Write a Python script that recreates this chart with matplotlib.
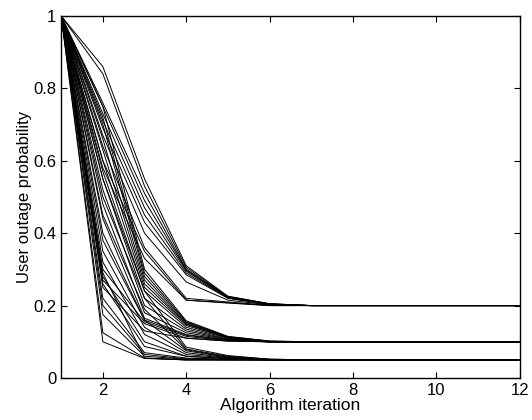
import matplotlib
matplotlib.use("Agg")
import matplotlib.pyplot as plt

iterations = list(range(1, 13))

# outage probability at iterations 1..6, then the level it settles at
group_high = [
    [1, 0.86, 0.55, 0.31, 0.226, 0.205],
    [1, 0.84, 0.53, 0.305, 0.225, 0.205],
    [1, 0.76, 0.51, 0.30, 0.224, 0.205],
    [1, 0.75, 0.49, 0.298, 0.223, 0.204],
    [1, 0.73, 0.47, 0.295, 0.222, 0.204],
    [1, 0.71, 0.45, 0.29, 0.221, 0.203],
    [1, 0.69, 0.43, 0.285, 0.22, 0.203],
    [1, 0.67, 0.40, 0.265, 0.215, 0.202],
    [1, 0.64, 0.36, 0.22, 0.21, 0.201],
    [1, 0.60, 0.35, 0.215, 0.208, 0.2],
    [1, 0.58, 0.33, 0.215, 0.207, 0.2],
]
final_high = 0.2

group_mid = [
    [1, 0.75, 0.30, 0.158, 0.115, 0.102],
    [1, 0.72, 0.29, 0.155, 0.114, 0.102],
    [1, 0.70, 0.28, 0.153, 0.113, 0.101],
    [1, 0.66, 0.27, 0.15, 0.112, 0.101],
    [1, 0.63, 0.26, 0.148, 0.112, 0.101],
    [1, 0.60, 0.25, 0.145, 0.111, 0.1],
    [1, 0.57, 0.24, 0.14, 0.11, 0.1],
    [1, 0.55, 0.22, 0.135, 0.108, 0.1],
    [1, 0.52, 0.20, 0.13, 0.107, 0.1],
    [1, 0.48, 0.18, 0.125, 0.106, 0.1],
    [1, 0.44, 0.165, 0.12, 0.105, 0.1],
    [1, 0.38, 0.16, 0.118, 0.104, 0.1],
    [1, 0.30, 0.155, 0.115, 0.103, 0.1],
    [1, 0.25, 0.13, 0.11, 0.102, 0.1],
    [1, 0.27, 0.15, 0.11, 0.102, 0.1],
]
final_mid = 0.1

group_low = [
    [1, 0.55, 0.24, 0.085, 0.062, 0.052],
    [1, 0.50, 0.22, 0.08, 0.06, 0.052],
    [1, 0.45, 0.19, 0.078, 0.058, 0.051],
    [1, 0.40, 0.16, 0.075, 0.057, 0.051],
    [1, 0.35, 0.14, 0.07, 0.056, 0.05],
    [1, 0.32, 0.12, 0.065, 0.055, 0.05],
    [1, 0.28, 0.10, 0.06, 0.054, 0.05],
    [1, 0.26, 0.087, 0.06, 0.053, 0.05],
    [1, 0.22, 0.07, 0.055, 0.052, 0.05],
    [1, 0.20, 0.065, 0.053, 0.051, 0.05],
    [1, 0.175, 0.06, 0.052, 0.05, 0.05],
    [1, 0.125, 0.055, 0.05, 0.05, 0.05],
    [1, 0.10, 0.054, 0.05, 0.05, 0.05],
    [1, 0.29, 0.055, 0.05, 0.05, 0.05],
]
final_low = 0.05

plt.rcParams['font.family'] = ['Liberation Sans', 'DejaVu Sans']

fig = plt.figure(figsize=(5.32, 4.2), dpi=100)
ax = fig.add_axes([0.115, 0.1, 0.862, 0.862])

for group, final in [(group_high, final_high), (group_mid, final_mid), (group_low, final_low)]:
    for early in group:
        ys = early + [final] * (len(iterations) - len(early))
        ax.plot(iterations, ys, color='k', linewidth=0.7)

ax.set_xlim(1, 12)
ax.set_ylim(0, 1)
ax.set_xticks([2, 4, 6, 8, 10, 12])
ax.set_yticks([0, 0.2, 0.4, 0.6, 0.8, 1])
ax.set_yticklabels(['0', '0.2', '0.4', '0.6', '0.8', '1'])
ax.tick_params(direction='in', top=True, right=True, labelsize=12, length=4, width=0.8)
for s in ax.spines.values():
    s.set_linewidth(1.0)
ax.set_xlabel('Algorithm iteration', fontsize=12.5, labelpad=0)
ax.set_ylabel('User outage probability', fontsize=12, labelpad=1)

fig.savefig('out.png', dpi=100)
